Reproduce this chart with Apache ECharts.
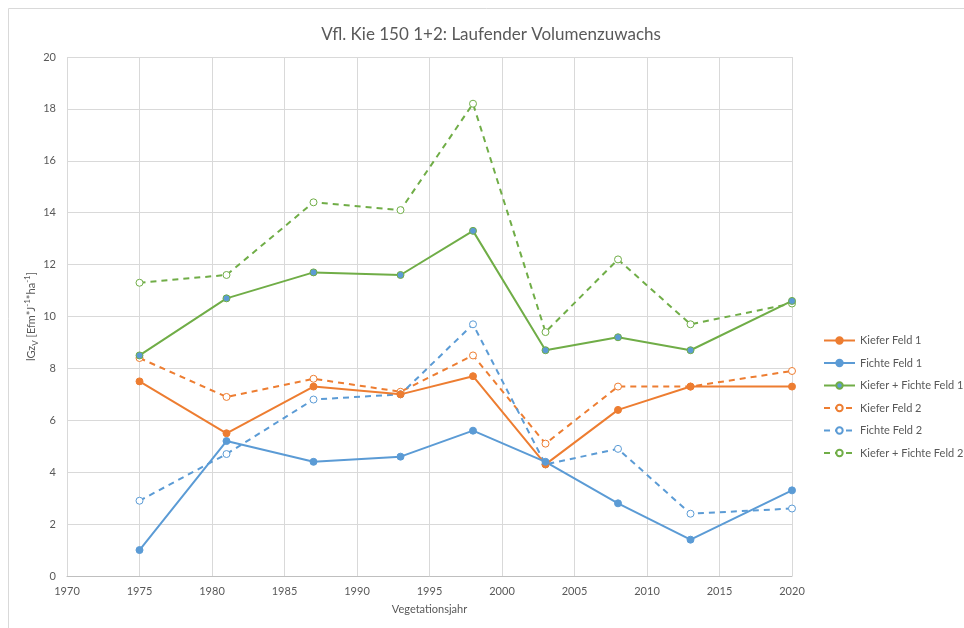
<!DOCTYPE html>
<html lang="de">
<head>
    <meta charset="UTF-8">
    <title>Vfl. Kie 150 1+2</title>
    <style>
        html, body { margin: 0; padding: 0; background: #fff; }
    </style>
</head>
<body>
<div id="main" style="width:964px;height:628px;"></div>

<script src="https://cdn.jsdelivr.net/npm/echarts@6/dist/echarts.min.js"></script>
<script>
    // Vegetationsjahre
    var jahre = [1975, 1981, 1987, 1993, 1998, 2003, 2008, 2013, 2020];

    var kieferFeld1 = [7.5, 5.5, 7.3, 7.0, 7.7, 4.3, 6.4, 7.3, 7.3];
    var fichteFeld1 = [1.0, 5.2, 4.4, 4.6, 5.6, 4.4, 2.8, 1.4, 3.3];
    var summeFeld1  = [8.5, 10.7, 11.7, 11.6, 13.3, 8.7, 9.2, 8.7, 10.6];
    var kieferFeld2 = [8.4, 6.9, 7.6, 7.1, 8.5, 5.1, 7.3, 7.3, 7.9];
    var fichteFeld2 = [2.9, 4.7, 6.8, 7.0, 9.7, 4.3, 4.9, 2.4, 2.6];
    var summeFeld2  = [11.3, 11.6, 14.4, 14.1, 18.2, 9.4, 12.2, 9.7, 10.5];

    var orange = '#ED7D31', blau = '#5B9BD5', gruen = '#70AD47';
    var schrift = 'Lato, "Noto Sans", sans-serif';

    function paare(werte) {
        return jahre.map(function (j, i) { return [j, werte[i]]; });
    }

    function linie(name, werte, farbe, gestrichelt, fuellung) {
        return {
            name: name,
            type: 'line',
            data: paare(werte),
            symbol: 'circle',
            symbolSize: 7,
            showAllSymbol: true,
            lineStyle: { color: farbe, width: 2, type: gestrichelt ? [6, 5] : 'solid' },
            itemStyle: {
                color: gestrichelt ? '#fff' : (fuellung || farbe),
                borderColor: farbe,
                borderWidth: 1
            },
            emphasis: { disabled: true },
            z: gestrichelt ? 2 : 3
        };
    }

    var myChart = echarts.init(document.getElementById('main'));
    myChart.setOption({
        animation: false,
        textStyle: { fontFamily: schrift },
        graphic: [{
            type: 'rect',
            shape: { x: 8.5, y: 8.5, width: 1000, height: 1000 },
            style: { fill: 'none', stroke: '#d9d9d9', lineWidth: 1 },
            silent: true
        }],
        title: {
            text: 'Vfl. Kie 150 1+2: Laufender Volumenzuwachs',
            left: 486,
            textAlign: 'center',
            top: 21,
            textStyle: { color: '#595959', fontSize: 17, fontWeight: 'normal', fontFamily: schrift }
        },
        legend: {
            orient: 'vertical',
            left: 823,
            top: 335,
            padding: 0,
            itemGap: 11.5,
            itemWidth: 31,
            itemHeight: 8,
            textStyle: { color: '#595959', fontSize: 11, fontFamily: schrift },
            data: ['Kiefer Feld 1', 'Fichte Feld 1', 'Kiefer + Fichte Feld 1',
                'Kiefer Feld 2', 'Fichte Feld 2', 'Kiefer + Fichte Feld 2']
        },
        grid: { left: 67, right: 172, top: 57, bottom: 52 },
        xAxis: {
            type: 'value',
            min: 1970,
            max: 2020,
            interval: 5,
            name: 'Vegetationsjahr',
            nameLocation: 'middle',
            nameGap: 28,
            nameTextStyle: { color: '#595959', fontSize: 11, fontFamily: schrift },
            axisLine: { lineStyle: { color: '#bfbfbf' } },
            axisTick: { show: false },
            axisLabel: {
                color: '#595959', fontSize: 11, margin: 10,
                formatter: function (v) { return String(v); }
            },
            splitLine: { show: true, lineStyle: { color: '#d9d9d9' } }
        },
        yAxis: {
            type: 'value',
            min: 0,
            max: 20,
            interval: 2,
            name: '{n|lGz}{sub|V}{n| [Efm*J}{sup|-1}{n|*ha}{sup|-1}{n|]}',
            nameLocation: 'middle',
            nameGap: 28,
            nameMoveOverlap: false,
            nameTextStyle: {
                color: '#595959',
                rich: {
                    n: { fontSize: 11, color: '#595959', fontFamily: schrift, verticalAlign: 'middle', lineHeight: 16 },
                    sub: { fontSize: 8, color: '#595959', fontFamily: schrift, verticalAlign: 'bottom', lineHeight: 16 },
                    sup: { fontSize: 8, color: '#595959', fontFamily: schrift, verticalAlign: 'top', lineHeight: 16 }
                }
            },
            axisLine: { show: false },
            axisTick: { show: false },
            axisLabel: { color: '#595959', fontSize: 11, margin: 11 },
            splitLine: { lineStyle: { color: '#d9d9d9' } }
        },
        series: [
            linie('Kiefer Feld 1', kieferFeld1, orange, false),
            linie('Fichte Feld 1', fichteFeld1, blau, false),
            linie('Kiefer + Fichte Feld 1', summeFeld1, gruen, false, blau),
            linie('Kiefer Feld 2', kieferFeld2, orange, true),
            linie('Fichte Feld 2', fichteFeld2, blau, true),
            linie('Kiefer + Fichte Feld 2', summeFeld2, gruen, true)
        ]
    });
</script>
</body>
</html>
